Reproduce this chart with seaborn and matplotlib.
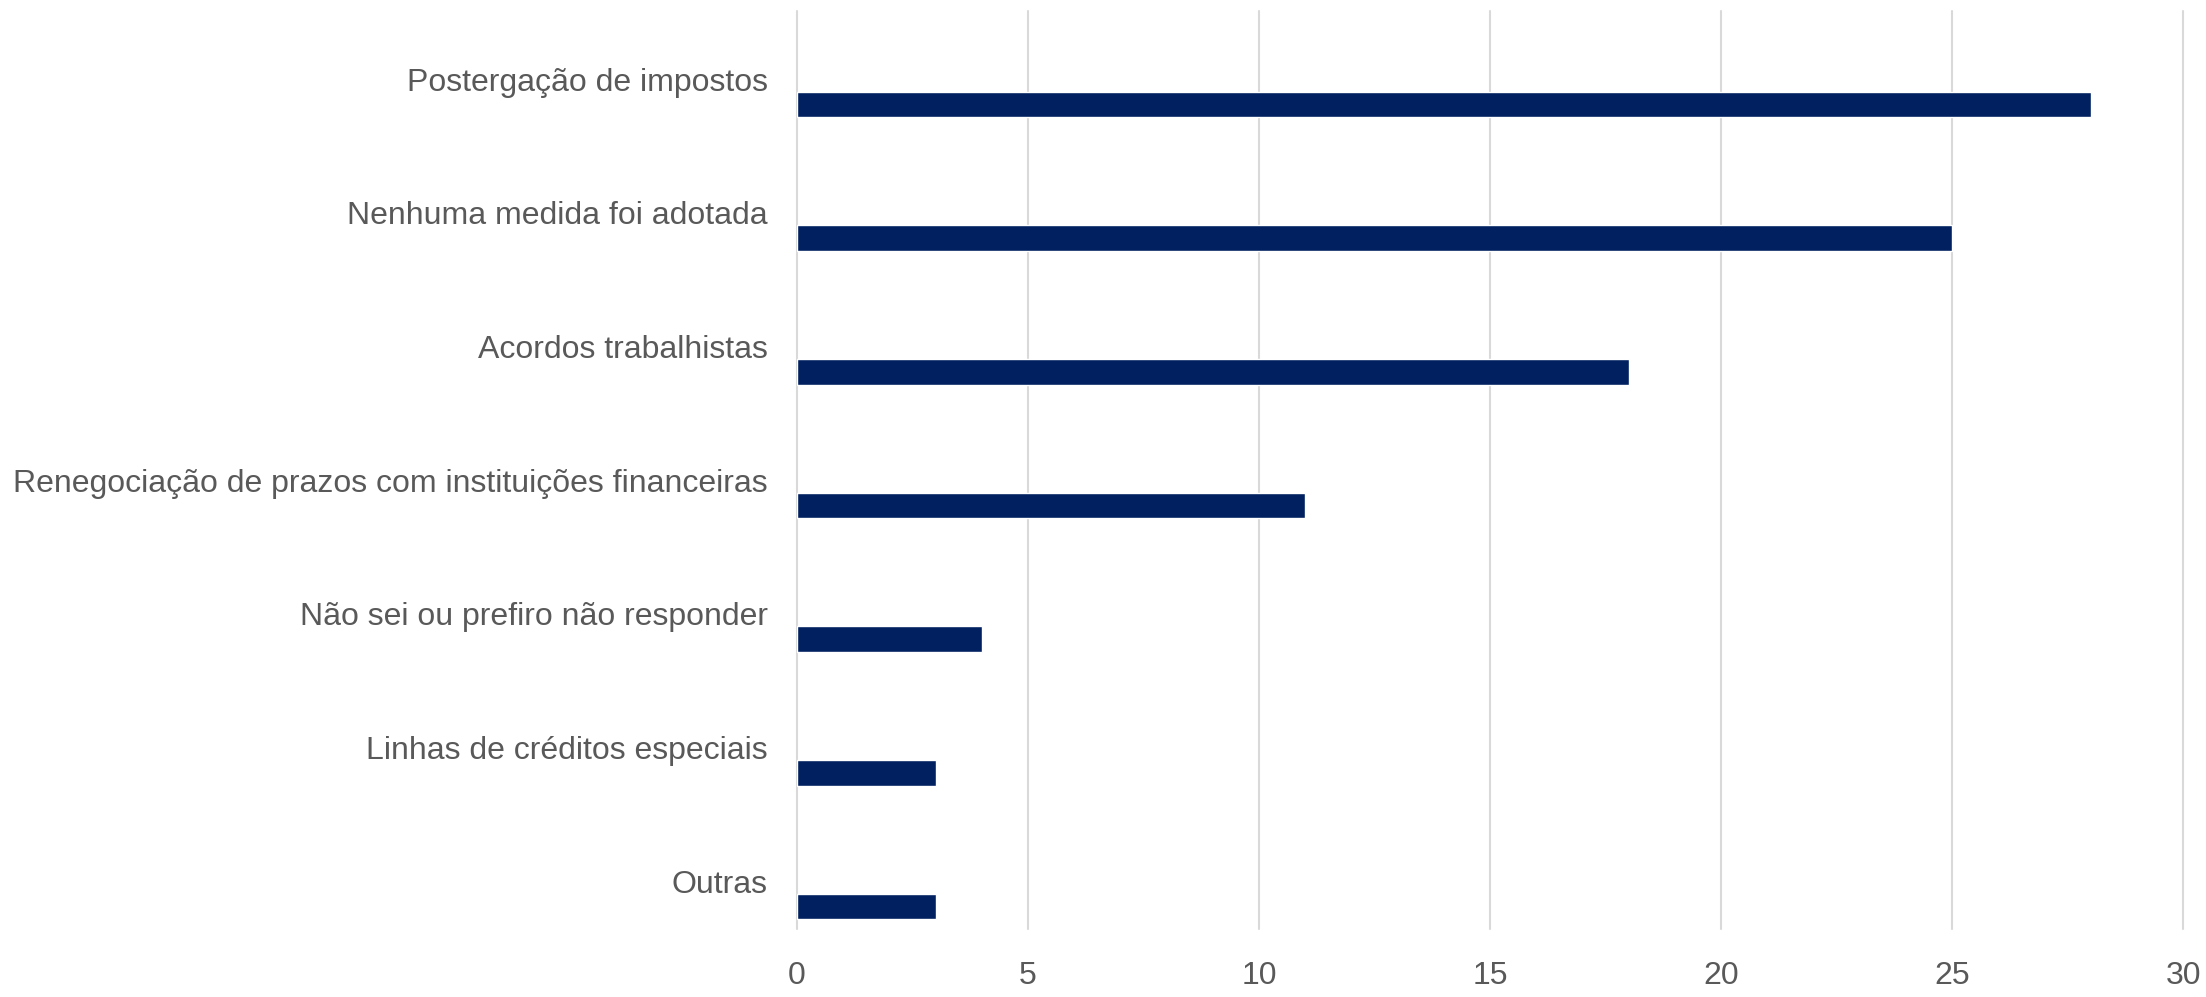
import matplotlib
matplotlib.use("Agg")
import matplotlib.pyplot as plt
import pandas as pd
import seaborn as sns

# respostas (número de empresas)
categorias = [
    "Postergação de impostos",
    "Nenhuma medida foi adotada",
    "Acordos trabalhistas",
    "Renegociação de prazos com instituições financeiras",
    "Não sei ou prefiro não responder",
    "Linhas de créditos especiais",
    "Outras",
]
valores = [28, 25, 18, 11, 4, 3, 3]
ticks_x = [0, 5, 10, 15, 20, 25, 30]

sns.set_style("white")
plt.rcParams["font.family"] = ["Liberation Sans", "DejaVu Sans"]

df = pd.DataFrame({"categoria": categorias, "valor": valores})

fig = plt.figure(figsize=(22.06, 9.97), dpi=100)
ax = fig.add_axes([0.3613, 0.068, 0.6283, 0.921])

sns.barplot(data=df, y="categoria", x="valor", orient="h",
            color="#002060", width=0.19, saturation=1, ax=ax)

# barras deslocadas para baixo do rótulo (estilo Excel)
for p in ax.patches:
    p.set_y(p.get_y() + 0.19)

ax.set_xlim(0, 30)
ax.set_ylim(6.36, -0.51)
ax.set_xticks(ticks_x)
ax.set_xlabel("")
ax.set_ylabel("")
ax.grid(axis="x", color="#d9d9d9", linewidth=1.5)
ax.set_axisbelow(True)
for s in ax.spines.values():
    s.set_visible(False)
ax.tick_params(axis="y", length=0, pad=21, labelsize=23, labelcolor="#595959")
ax.tick_params(axis="x", length=0, pad=23, labelsize=23, labelcolor="#595959")
for gl in ax.get_xgridlines():
    gl.set_clip_on(False)

fig.savefig("out.png", dpi=100)
